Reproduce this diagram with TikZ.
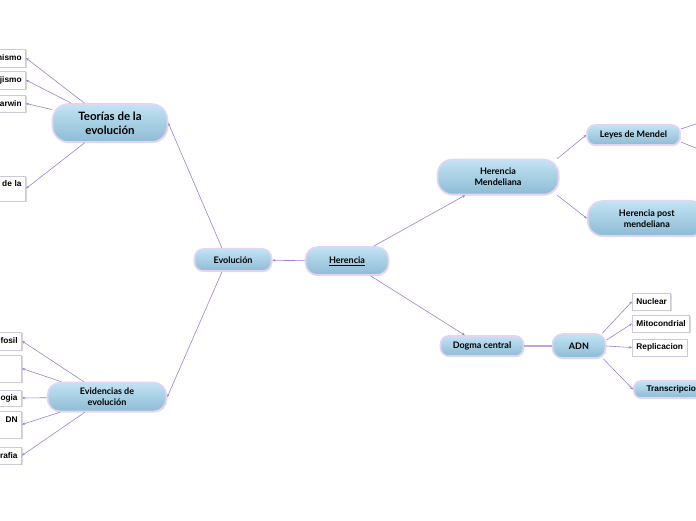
\documentclass[tikz,border=0pt]{standalone}
\usepackage{fontspec}
\setmainfont{Lato}
\newfontfamily\leaffont{Liberation Sans}
\usetikzlibrary{arrows.meta,shadows}

\definecolor{linkcol}{HTML}{A27FCB}
\definecolor{pilltop}{HTML}{C2E3F4}
\definecolor{pillbot}{HTML}{8DBBD4}
\definecolor{pillrim}{HTML}{E4D4F1}
\definecolor{leafrim}{HTML}{CFC8DA}

\tikzset{
  pill/.style={rounded corners=#1, top color=pilltop, bottom color=pillbot,
    draw=pillrim, line width=1.6pt, align=center, inner sep=0pt,
    font=\bfseries\fontsize{9}{11}\selectfont,
    drop shadow={shadow xshift=0.8pt, shadow yshift=-1.2pt, opacity=0.2}},
  pill/.default=9pt,
  leaf/.style={draw=leafrim, fill=white, line width=0.8pt, inner ysep=0pt, inner xsep=4pt,
    font=\leaffont\bfseries\fontsize{8.3}{10}\selectfont,
    drop shadow={shadow xshift=1pt, shadow yshift=-1.2pt, opacity=0.3}},
  cutleaf/.style={leaf, text width=50pt, align=right, anchor=east},
  link/.style={draw=linkcol, line width=0.6pt, -{Stealth[length=3pt,width=2.6pt]}}
}

\begin{document}
\begin{tikzpicture}[x=1pt,y=-1pt]
  \clip (0,0) rectangle (696,520);

  % centre
  \node[pill, minimum width=77pt, minimum height=22pt] (evol) at (233,260) {Evolución};
  \node[pill=12pt, minimum width=83pt, minimum height=28pt] (her) at (347,261) {\underline{Herencia}};

  % left side
  \node[pill=16pt, minimum width=115pt, minimum height=38pt,
        font=\bfseries\fontsize{11.5}{14}\selectfont] (teor) at (110,123) {Teorías de la\\evolución};
  \node[pill=13pt, minimum width=119pt, minimum height=29pt] (evid) at (107,397) {Evidencias de\\evolución};

  \node[cutleaf, minimum height=18pt] (t1) at (26,58) {nismo};
  \node[cutleaf, minimum height=18pt] (t2) at (26,80) {jismo};
  \node[cutleaf, minimum height=17pt] (t3) at (26,103.5) {arwin};
  \node[cutleaf, minimum height=25pt] (t4) at (26,188.5) {de la\\\mbox{}};

  \node[cutleaf, minimum height=18pt] (e1) at (22,341) {fosil};
  \node[cutleaf, minimum height=27pt] (e2) at (22,368.5) {};
  \node[cutleaf, minimum height=16pt] (e3) at (22,398) {ogia};
  \node[cutleaf, minimum height=27pt] (e4) at (22,424.5) {DN\\\mbox{}};
  \node[cutleaf, minimum height=17pt] (e5) at (22,455.5) {rafia};

  % right side
  \node[pill=15pt, minimum width=121pt, minimum height=35pt] (hmen) at (498,177) {Herencia\\Mendeliana};
  \node[pill=8pt, minimum width=93pt, minimum height=20pt] (leyes) at (633.5,135) {Leyes de Mendel};
  \node[pill=15pt, minimum width=118pt, minimum height=35pt, anchor=west] (post) at (587,218.5) {Herencia post\\mendeliana};
  \node[pill=8pt, minimum width=83pt, minimum height=20pt] (dogma) at (482,346) {Dogma central};
  \node[pill=10pt, minimum width=53pt, minimum height=24pt] (adn) at (579,346) {ADN};

  \node[leaf, minimum height=17pt, anchor=west] (nuc) at (632,301.5) {Nuclear};
  \node[leaf, minimum height=17pt, anchor=west] (mito) at (632,323.5) {Mitocondrial};
  \node[leaf, minimum height=17pt, anchor=west] (repl) at (632,347.5) {Replicacion};
  \node[pill=7pt, minimum width=80pt, minimum height=17pt, anchor=west,
        font=\leaffont\bfseries\fontsize{8.3}{10}\selectfont] (trans) at (633,389.5) {Transcripcion};

  \coordinate (out1) at (720,116);
  \coordinate (out2) at (720,157.5);

  % connectors
  \draw[link] (her) -- (evol);
  \draw[link] ([xshift=-11pt]evol.north) -- (teor.east);
  \draw[link] ([xshift=-11pt]evol.south) -- (evid.east);
  \foreach \leaf in {t1,t2,t3,t4} \draw[link] (teor) -- (\leaf.east);
  \foreach \leaf in {e1,e2,e3,e4,e5} \draw[link] (evid) -- (\leaf.east);
  \draw[link] (her) -- (hmen);
  \draw[link] (her) -- (dogma);
  \draw[link] ([xshift=-2pt]hmen.north east) -- (leyes.west);
  \draw[link] ([xshift=-2pt]hmen.south east) -- (post.west);
  \draw[link] ([yshift=6pt]leyes.east) -- (out1);
  \draw[link] ([yshift=-7pt]leyes.east) -- (out2);
  \draw[draw=linkcol!70, line width=1.3pt] (dogma) -- (adn);
  \draw[link] ([xshift=-4pt]adn.north east) -- (nuc.west);
  \draw[link] (adn.12) -- (mito.west);
  \draw[link] (adn.east) -- (repl.west);
  \draw[link] ([xshift=-3pt]adn.south east) -- (trans.west);
\end{tikzpicture}
\end{document}
